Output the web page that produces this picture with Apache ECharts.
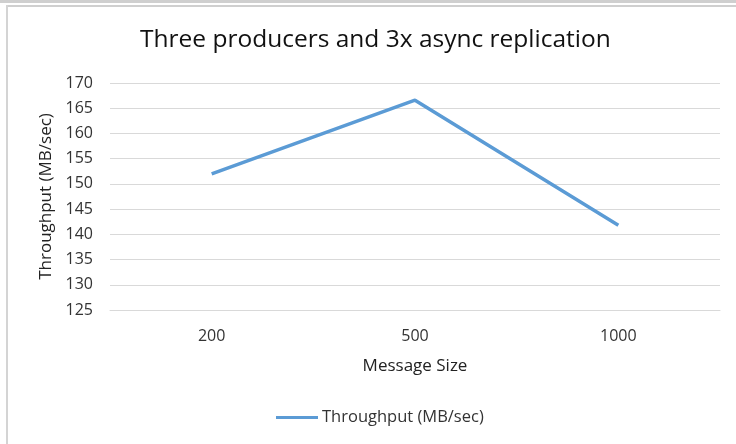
<!DOCTYPE html>
<html><head><meta charset="utf-8">
<script src="https://cdn.jsdelivr.net/npm/echarts@6/dist/echarts.min.js"></script>
<style>html,body{margin:0;padding:0;background:#fff}#c{width:736px;height:444px}</style>
</head><body><div id="c"></div>
<script>
const categories = ['200', '500', '1000'];
const throughput = [152.0, 166.6, 141.8];
const seriesName = 'Throughput (MB/sec)';
const titleText = 'Three producers and 3x async replication';
const xName = 'Message Size';
const yName = 'Throughput (MB/sec)';

const FONT = 'Open Sans';
const chart = echarts.init(document.getElementById('c'), null, {renderer: 'canvas'});
chart.setOption({
  animation: false,
  backgroundColor: '#fff',
  textStyle: {fontFamily: FONT},
  title: {
    text: titleText, left: 135, top: 23,
    textStyle: {fontFamily: FONT, fontSize: 24.5, fontWeight: 'normal', color: '#111'}
  },
  legend: {
    data: [seriesName], bottom: 13, left: 271,
    itemWidth: 42, itemHeight: 3, itemGap: 4, icon: 'rect',
    textStyle: {fontFamily: FONT, fontSize: 16.5, color: '#333', padding: [0, 0, 0, -1]}
  },
  grid: {left: 110, right: 16, top: 83, bottom: 134, containLabel: false},
  xAxis: {
    type: 'category', data: categories, boundaryGap: true,
    name: xName, nameLocation: 'middle', nameGap: 48,
    nameTextStyle: {fontFamily: FONT, fontSize: 17, color: '#222'},
    axisLine: {show: true, lineStyle: {color: '#d9d9d9', width: 1}},
    axisTick: {show: false},
    axisLabel: {fontFamily: FONT, fontSize: 16, color: '#333', margin: 18}
  },
  yAxis: {
    type: 'value', min: 125, max: 170, interval: 5,
    name: yName, nameLocation: 'middle', nameGap: 54, nameRotate: 90,
    nameTextStyle: {fontFamily: FONT, fontSize: 17, color: '#222'},
    axisLine: {show: false}, axisTick: {show: false},
    axisLabel: {fontFamily: FONT, fontSize: 16, color: '#333', margin: 17},
    splitLine: {lineStyle: {color: '#d9d9d9', width: 1}}
  },
  series: [{
    name: seriesName, type: 'line', data: throughput,
    symbol: 'none', lineStyle: {color: '#5b9bd5', width: 3.5},
    itemStyle: {color: '#5b9bd5'}
  }],
  graphic: [
    {type: 'rect', shape: {x: 0, y: 0, width: 736, height: 3}, style: {fill: '#cfcfcf'}, silent: true},
    {type: 'rect', shape: {x: 7, y: 5, width: 729, height: 2}, style: {fill: '#cfcfcf'}, silent: true},
    {type: 'rect', shape: {x: 6, y: 5, width: 2, height: 439}, style: {fill: '#d4d4d4'}, silent: true}
  ]
});
</script></body></html>
